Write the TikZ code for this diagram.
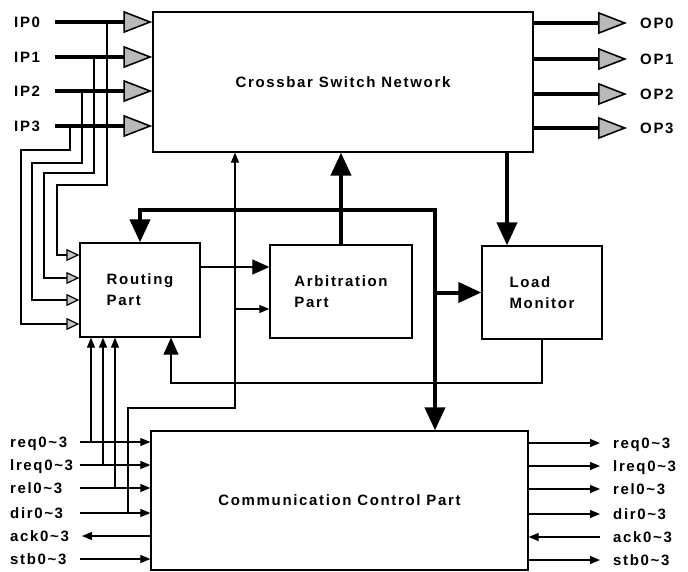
\documentclass[tikz,border=0pt]{standalone}
\usepackage{fontspec}
\setmainfont{Liberation Sans}[LetterSpace=11]
\usepackage{tikz}
\usetikzlibrary{arrows.meta,calc}

\newcommand{\sigtext}[1]{#10\textasciitilde 3}

\begin{document}
\begin{tikzpicture}
[x = 1pt, y = -1pt]
\tikzset{
	box node/.style = {draw, line width = 1.3pt, inner sep = 0, align = left, font = \bfseries\fontsize{15}{21}\selectfont},
	label node/.style = {anchor = base west, inner sep = 0, font = \bfseries\fontsize{15}{16}\selectfont},
	thin line/.style = {line width = 1.2pt},
	thick line/.style = {line width = 4pt},
	port line/.style = {line width = 4.5pt, -{Triangle[length = 29pt, width = 22pt, fill = gray!55, line width = 1.6pt]}},
	small in/.style = {-{Triangle[length = 13pt, width = 12pt, fill = gray!45, line width = 1.2pt]}},
	big tip/.style = {-{Triangle[length = 23pt, width = 20pt]}},
	mid tip/.style = {-{Triangle[length = 17pt, width = 15pt]}},
	small tip/.style = {-{Triangle[length = 10pt, width = 8pt]}},
}

\useasboundingbox (0,0) rectangle (688,572);

% blocks
\node (xbar)[box node, minimum width = 380, minimum height = 140] at (343,82) {Crossbar Switch Network};
\node (route)[box node, minimum width = 120, minimum height = 94] at (140,290) {Routing\\Part};
\node (arb)[box node, minimum width = 142, minimum height = 93] at (341,291.5) {Arbitration\\Part};
\node (load)[box node, minimum width = 120, minimum height = 93] at (542,292.5) {Load\\Monitor};
\node (comm)[box node, minimum width = 377, minimum height = 139] at (339.5,500.5) {Communication Control Part};

% input ports and their taps into the routing part
\foreach \i/\y/\bx/\by/\lx/\ry in {0/22/107/185/57/255, 1/57/94/173/44/278, 2/91/82/163/32/300, 3/126/70/150/21/324}{
	\node (ip\i)[label node] at (14,\y+5.5) {IP\i};
	\coordinate (ipin\i) at (55,\y);
	\coordinate (tap\i) at (\bx,\y);
	\draw [port line] (ipin\i) -- (xbar.west |- ipin\i);
	\draw [thin line, small in] (tap\i) |- (\lx,\by) |- (route.west |- 0,\ry);
}

% output ports
\foreach \i/\y in {0/23, 1/59, 2/94, 3/128}{
	\node (op\i)[label node] at (640,\y+5.5) {OP\i};
	\coordinate (opout\i) at (627,\y);
	\draw [port line] (xbar.east |- opout\i) -- (opout\i);
}

% bus between the blocks
\coordinate (bus) at (435,210);
\draw [thick line, {Triangle[length = 23pt, width = 20pt]}-{Triangle[length = 23pt, width = 20pt]}] (route.north) |- (bus) -- (bus |- comm.north);
\draw [thick line, big tip] (bus |- load.west) -- (load.west);
\draw [thick line, big tip] (arb.north) -- (arb.north |- xbar.south);
\draw [thick line, big tip] (xbar.south -| 507,0) -- (507,0 |- load.north);

\draw [thin line, mid tip] (route.east |- 0,267) -- (arb.west |- 0,267);
\draw [thin line, mid tip] (load.south) |- (171,383) -- (171,0 |- route.south);

% control signals
\foreach \i/\s/\y in {0/req/442, 1/lreq/465, 2/rel/488, 3/dir/513, 4/ack/536, 5/stb/559}{
	\node (lsig\i)[label node] at (10,\y+5.5) {\sigtext{\s}};
	\node (rsig\i)[label node] at (613,\y+6.5) {\sigtext{\s}};
	\coordinate (lin\i) at (80,\y);
	\coordinate (rout\i) at (600,\y+1);
}
\foreach \i in {0,1,2,3,5}{
	\draw [thin line, small tip] (lin\i) -- (comm.west |- lin\i);
	\draw [thin line, small tip] (comm.east |- rout\i) -- (rout\i);
}
\draw [thin line, small tip] (comm.west |- lin4) -- ($(lin4)+(2,0)$);
\draw [thin line, small tip] (rout4) -- (comm.east |- rout4);

% taps into the routing part and the crossbar
\foreach \i/\x in {0/91, 1/103, 2/115}{
	\coordinate (rtap\i) at (lin\i -| \x,0);
	\draw [thin line, small tip] (rtap\i) -- (rtap\i |- route.south);
}
\coordinate (dirtap) at (lin3 -| 128,0);
\coordinate (arbtap) at (235,309);
\draw [thin line, small tip] (dirtap) |- (235,408) -- (235,0 |- xbar.south);
\draw [thin line, small tip] (arbtap) -- (arb.west |- arbtap);

\end{tikzpicture}
\end{document}
